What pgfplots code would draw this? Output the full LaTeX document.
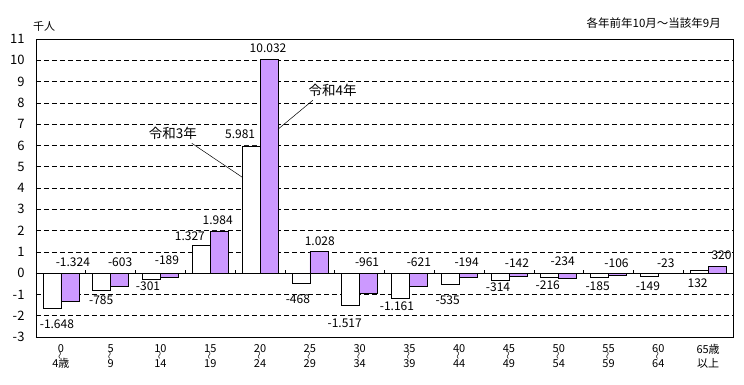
\documentclass[border=0pt]{standalone}
\usepackage{fontspec}
\setmainfont{Noto Sans CJK JP}
\usepackage{pgfplots}
\pgfplotsset{compat=1.18}
\usepackage{graphicx}
\definecolor{purp}{RGB}{204,153,255}
\newcommand{\vt}{\rotatebox{90}{\fontsize{8}{8}\selectfont 〜}}
\newcommand{\tl}[2]{#1\\[-3pt]\vt\\[-2pt]#2}
\begin{document}
\begin{tikzpicture}
\path[use as bounding box] (-36pt,-47pt) rectangle (708pt,337pt);
\begin{axis}[
 anchor=south west, at={(0pt,0pt)},
 scale only axis, width=697pt, height=298pt,
 xmin=-0.5, xmax=13.5, ymin=-3, ymax=11,
 ytick={-3,...,11},
 xtick={0,...,13},
 xticklabels={{\tl{0}{4歳}},{\tl{5}{9}},{\tl{10}{14}},{\tl{15}{19}},{\tl{20}{24}},{\tl{25}{29}},{\tl{30}{34}},{\tl{35}{39}},{\tl{40}{44}},{\tl{45}{49}},{\tl{50}{54}},{\tl{55}{59}},{\tl{60}{64}},{65歳\\[4pt]以上}},
 xticklabel style={align=center, font=\fontsize{11}{10}\selectfont, anchor=north, yshift=-4pt},
 major tick length=0pt,
 ymajorgrids, grid style={black, dash pattern=on 5pt off 3pt, line width=0.6pt},
 axis line style={black, line width=0.8pt},
 /pgf/number format/assume math mode=true,
 yticklabel style={font=\fontsize{13}{13}\selectfont, anchor=east, xshift=-8pt},
 clip=false,
]
\addplot[ybar, bar width=18pt, bar shift=-9pt, fill=white, draw=black, line width=0.6pt]
 coordinates {(0,-1.648) (1,-0.785) (2,-0.301) (3,1.327) (4,5.981) (5,-0.468) (6,-1.517) (7,-1.161) (8,-0.535) (9,-0.314) (10,-0.216) (11,-0.185) (12,-0.149) (13,0.132)};
\addplot[ybar, bar width=18pt, bar shift=9pt, fill=purp, draw=black, line width=0.6pt]
 coordinates {(0,-1.324) (1,-0.603) (2,-0.189) (3,1.984) (4,10.032) (5,1.028) (6,-0.961) (7,-0.621) (8,-0.194) (9,-0.142) (10,-0.234) (11,-0.106) (12,-0.023) (13,0.320)};
\draw[black, line width=0.8pt] (axis cs:-0.5,0) -- (axis cs:13.5,0);
\pgfplotsinvokeforeach{0.5,1.5,2.5,3.5,4.5,5.5,6.5,7.5,8.5,9.5,10.5,11.5,12.5}{
 \draw[black, line width=0.6pt] (axis cs:#1,0) -- ++(0pt,3pt);
}
\begin{scope}[every node/.style={font=\fontsize{12}{12}\selectfont, inner sep=0pt}]
\node at (axis cs:-0.08,-2.39) {-1.648};
\node at (axis cs:0.24,0.52) {-1.324};
\node at (axis cs:0.81,-1.27) {-785};
\node at (axis cs:1.19,0.52) {-603};
\node at (axis cs:1.75,-0.61) {-301};
\node at (axis cs:2.13,0.61) {-189};
\node at (axis cs:2.59,1.74) {1.327};
\node at (axis cs:3.15,2.49) {1.984};
\node at (axis cs:3.60,6.53) {5.981};
\node at (axis cs:4.16,10.56) {10.032};
\node at (axis cs:4.76,-1.22) {-468};
\node at (axis cs:5.20,1.50) {1.028};
\node at (axis cs:5.70,-2.35) {-1.517};
\node at (axis cs:6.15,0.52) {-961};
\node at (axis cs:6.75,-1.55) {-1.161};
\node at (axis cs:7.19,0.52) {-621};
\node at (axis cs:7.77,-1.27) {-535};
\node at (axis cs:8.15,0.52) {-194};
\node at (axis cs:8.78,-0.66) {-314};
\node at (axis cs:9.16,0.47) {-142};
\node at (axis cs:9.78,-0.56) {-216};
\node at (axis cs:10.08,0.56) {-234};
\node at (axis cs:10.78,-0.61) {-185};
\node at (axis cs:11.16,0.47) {-106};
\node at (axis cs:11.79,-0.61) {-149};
\node at (axis cs:12.15,0.47) {-23};
\node at (axis cs:12.79,-0.47) {132};
\node at (axis cs:13.27,0.85) {320};
\end{scope}
\node[font=\fontsize{13.5}{13.5}\selectfont, inner sep=0pt] at (axis cs:2.25,6.57) {令和3年};
\draw[black, line width=0.5pt] (axis cs:2.63,6.10) -- (axis cs:3.64,4.51);
\node[font=\fontsize{13.5}{13.5}\selectfont, inner sep=0pt] at (axis cs:5.46,8.59) {令和4年};
\draw[black, line width=0.5pt] (axis cs:5.06,8.12) -- (axis cs:4.36,6.76);
\end{axis}
\node[font=\fontsize{11}{11}\selectfont, inner sep=0pt] at (8pt,310.5pt) {千人};
\node[font=\fontsize{11.5}{11.5}\selectfont, inner sep=0pt, anchor=east] at (685pt,314pt) {各年前年10月～当該年9月};
\end{tikzpicture}
\end{document}
